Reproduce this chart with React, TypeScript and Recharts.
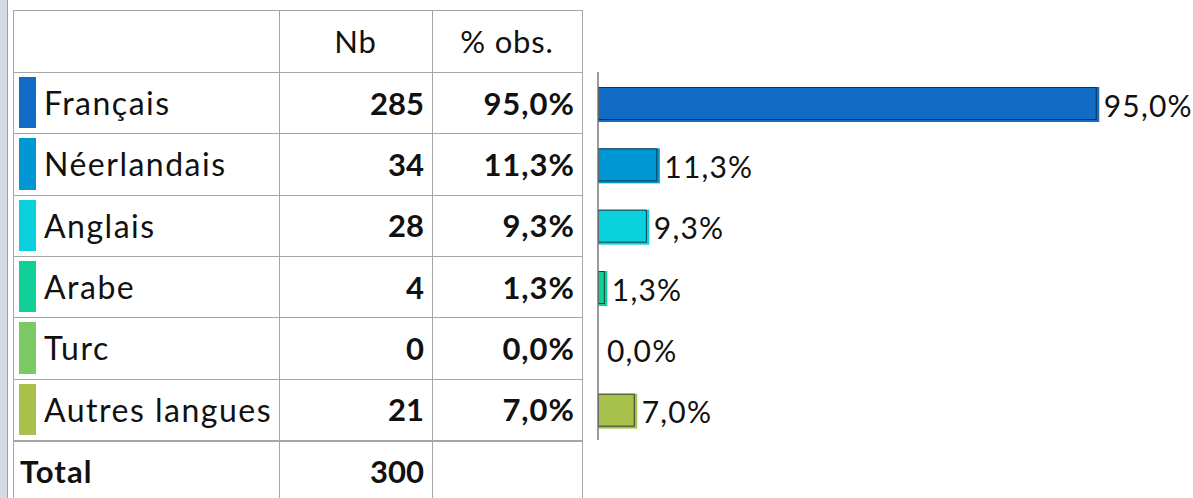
import React from 'react';
import { Bar, BarChart, LabelList, ReferenceLine, XAxis, YAxis } from 'recharts';

const CATEGORIES = ['Français', 'Néerlandais', 'Anglais', 'Arabe', 'Turc', 'Autres langues'];
const COUNTS = [285, 34, 28, 4, 0, 21];
const PERCENTS = [95.0, 11.3, 9.3, 1.3, 0.0, 7.0];
const COLORS = ['#106CC4', '#0098D4', '#08D0DC', '#10D098', '#7CC864', '#A8C04C'];
const HEADERS = ['', 'Nb', '% obs.'];
const TOTAL_LABEL = 'Total';
const TOTAL = 300;

const W = 1193;
const H = 498;
const FONT = 'Lato, "DejaVu Sans", sans-serif';
const FS = 31;
const COL_X = [13, 279, 432, 582];
const HEAD_TOP = 10;
const BODY_TOP = 72;
const BODY_BOTTOM = 440;
const ROW_H = (BODY_BOTTOM - BODY_TOP) / CATEGORIES.length;
const LINE = '#A6A6A6';

const data = CATEGORIES.map((name, i) => ({ name, pct: PERCENTS[i] }));

const fmtPct = (v: number) => `${v.toFixed(1).replace('.', ',')}%`;

function ShadowBar(props: any) {
  const { x, y, width, height, index } = props;
  if (!width || width <= 0) return null;
  const color = COLORS[index];
  const top = y + 1;
  return (
    <g>
      <rect x={x} y={top} width={width + 2.5} height={height + 2} fill={color} />
      <rect
        x={x + 0.5}
        y={top + 0.5}
        width={Math.max(width - 1, 0)}
        height={height - 1}
        fill={color}
        stroke="#1c2430"
        strokeOpacity={0.85}
        strokeWidth={1}
      />
    </g>
  );
}

function PctLabel(props: any) {
  const { x, y, width, height, value } = props;
  const w = Number(width) || 0;
  return (
    <text
      x={Number(x) + w + (w > 0 ? 7 : 9)}
      y={Number(y) + Number(height) / 2 + 2}
      dominantBaseline="central"
      fontFamily={FONT}
      fontSize={FS - 1}
      letterSpacing={1.2}
      fill="#111"
    >
      {fmtPct(Number(value))}
    </text>
  );
}

export default function App() {
  const cellBase: React.CSSProperties = { position: 'absolute', display: 'flex', alignItems: 'center', whiteSpace: 'nowrap' };
  const hLines = [HEAD_TOP, BODY_TOP, ...CATEGORIES.map((_, i) => BODY_TOP + (i + 1) * ROW_H)];

  return (
    <div style={{ position: 'relative', width: W, height: H, overflow: 'hidden', background: '#fff', fontFamily: FONT, color: '#111' }}>
      <style>{'body{margin:0}'}</style>

      {/* window edge on the left */}
      <div style={{ position: 'absolute', left: 0, top: 0, width: 7, height: H, background: '#D6DAE4' }} />
      <div style={{ position: 'absolute', left: 7, top: 0, width: 1, height: H, background: '#9CA2AE' }} />

      <div style={{ position: 'absolute', left: 0, top: 0 }}>
        <BarChart width={W} height={H} layout="vertical" data={data} margin={{ top: BODY_TOP, right: 70, bottom: H - BODY_BOTTOM, left: 598 }}>
          <XAxis type="number" domain={[0, 100]} hide />
          <YAxis type="category" dataKey="name" hide />
          <Bar dataKey="pct" barSize={33} shape={<ShadowBar />} isAnimationActive={false}>
            <LabelList dataKey="pct" content={<PctLabel />} />
          </Bar>
          <ReferenceLine x={0} stroke="#7A7A7A" strokeWidth={1.5} />
        </BarChart>
      </div>

      {/* table grid */}
      {hLines.map((y, i) => (
        <div key={`h${i}`} style={{ position: 'absolute', left: COL_X[0], top: Math.round(y), width: COL_X[3] - COL_X[0] + 1, height: i === hLines.length - 1 ? 2 : 1, background: LINE }} />
      ))}
      {COL_X.map((x, i) => (
        <div key={`v${i}`} style={{ position: 'absolute', left: x, top: HEAD_TOP, width: 1, height: H - HEAD_TOP, background: LINE }} />
      ))}

      {/* header */}
      {HEADERS.map((h, i) => (
        <div key={`hd${i}`} style={{ ...cellBase, left: COL_X[i], top: HEAD_TOP, width: COL_X[i + 1] - COL_X[i], height: BODY_TOP - HEAD_TOP, justifyContent: 'center', fontSize: FS, letterSpacing: 0.8 }}>
          {h}
        </div>
      ))}

      {/* body rows */}
      {CATEGORIES.map((name, i) => {
        const top = BODY_TOP + i * ROW_H;
        return (
          <React.Fragment key={name}>
            <div style={{ position: 'absolute', left: 19, top: top + 5, width: 17, height: ROW_H - 10, background: COLORS[i] }} />
            <div style={{ ...cellBase, left: 44, top, height: ROW_H, fontSize: 32, letterSpacing: 1.5 }}>{name}</div>
            <div style={{ ...cellBase, left: COL_X[1], top, width: COL_X[2] - COL_X[1] - 8, height: ROW_H, justifyContent: 'flex-end', fontSize: FS, fontWeight: 700 }}>
              {COUNTS[i]}
            </div>
            <div style={{ ...cellBase, left: COL_X[2], top, width: COL_X[3] - COL_X[2] - 7, height: ROW_H, justifyContent: 'flex-end', fontSize: FS, fontWeight: 700, letterSpacing: 1 }}>
              {fmtPct(PERCENTS[i])}
            </div>
          </React.Fragment>
        );
      })}

      {/* total row */}
      <div style={{ ...cellBase, left: 20, top: BODY_BOTTOM, height: ROW_H, fontSize: FS, fontWeight: 700, letterSpacing: 1 }}>{TOTAL_LABEL}</div>
      <div style={{ ...cellBase, left: COL_X[1], top: BODY_BOTTOM, width: COL_X[2] - COL_X[1] - 8, height: ROW_H, justifyContent: 'flex-end', fontSize: FS, fontWeight: 700 }}>
        {TOTAL}
      </div>
    </div>
  );
}
